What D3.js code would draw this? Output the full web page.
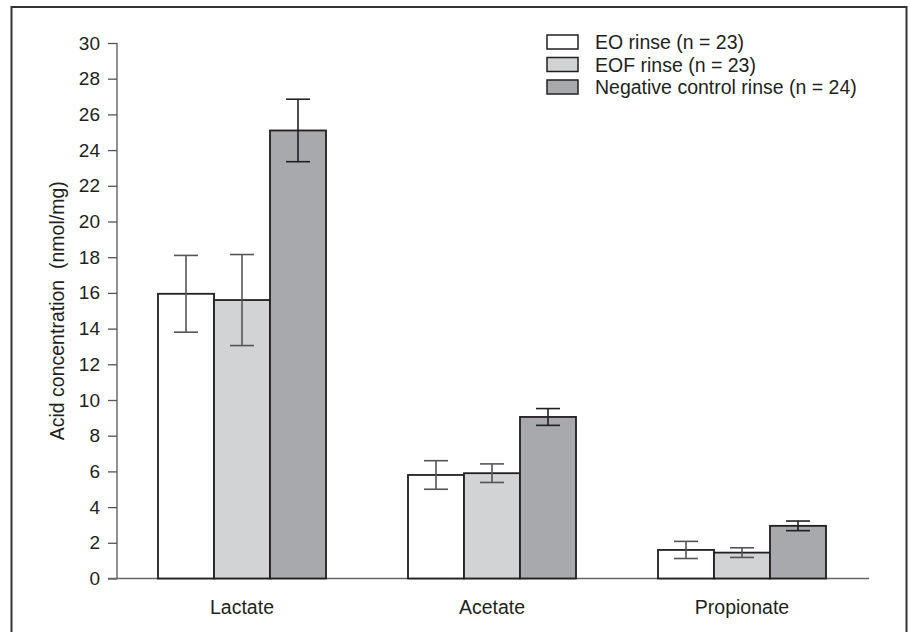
<!DOCTYPE html>
<html>
<head>
<meta charset="utf-8">
<script src="https://cdn.jsdelivr.net/npm/d3@7/dist/d3.min.js"></script>
<style>
  html, body { margin: 0; padding: 0; background: #fff; }
  svg { display: block; }
  text { font-family: "Liberation Sans", Arial, Helvetica, sans-serif; fill: #231f20; }
</style>
</head>
<body>
<svg id="chart" width="911" height="632"></svg>
<script>
// ---- data ----
const categories = ["Lactate", "Acetate", "Propionate"];
const seriesNames = ["EO rinse (n = 23)", "EOF rinse (n = 23)", "Negative control rinse (n = 24)"];
const eoValues  = [15.95, 5.8, 1.6];
const eoErrors  = [2.15, 0.8, 0.48];
const eofValues = [15.6, 5.9, 1.45];
const eofErrors = [2.55, 0.52, 0.27];
const negValues = [25.1, 9.05, 2.95];
const negErrors = [1.75, 0.47, 0.27];
const yTicks = [0, 2, 4, 6, 8, 10, 12, 14, 16, 18, 20, 22, 24, 26, 28, 30];
const yLabel = "Acid concentration\u00a0\u00a0(nmol/mg)";

const seriesFills = ["#ffffff", "#d1d3d4", "#a7a9ac"];

const series = [
  { name: seriesNames[0], values: eoValues, errors: eoErrors },
  { name: seriesNames[1], values: eofValues, errors: eofErrors },
  { name: seriesNames[2], values: negValues, errors: negErrors }
];

const svg = d3.select("#chart");

// border frame
svg.append("rect")
  .attr("x", 11.5).attr("y", 7).attr("width", 895).attr("height", 640)
  .attr("fill", "none").attr("stroke", "#333").attr("stroke-width", 2);

const x0 = d3.scaleBand().domain(categories).range([117, 867])
  .paddingInner(0.328).paddingOuter(0.164);
const x1 = d3.scaleBand().domain(d3.range(series.length)).range([0, x0.bandwidth()]);
const y = d3.scaleLinear().domain([0, 30]).range([578.5, 43]);

// y axis
const yAxis = svg.append("g")
  .attr("transform", "translate(117,0)")
  .call(d3.axisLeft(y).tickValues(yTicks).tickSize(9).tickPadding(8).tickFormat(d3.format("d")));
yAxis.select(".domain").attr("stroke", "#555").attr("stroke-width", 1.3).attr("d", "M0,578.5V43");
yAxis.selectAll(".tick line").attr("stroke", "#555").attr("stroke-width", 1.3);
yAxis.selectAll(".tick text").attr("font-size", 19).attr("fill", "#231f20")
  .style("font-family", "'Liberation Sans', Arial, sans-serif");

// baseline
svg.append("line")
  .attr("x1", 108).attr("x2", 869).attr("y1", y(0)).attr("y2", y(0))
  .attr("stroke", "#666").attr("stroke-width", 1.5);

// y label
svg.append("text")
  .attr("transform", `translate(64,${(y(0) + y(30)) / 2}) rotate(-90)`)
  .attr("text-anchor", "middle")
  .attr("font-size", 19.5)
  .text(yLabel);

// bars
const groups = svg.append("g").selectAll("g")
  .data(categories)
  .join("g")
  .attr("transform", d => `translate(${x0(d)},0)`);

groups.selectAll("rect")
  .data((c, ci) => series.map((s, si) => ({ si, v: s.values[ci] })))
  .join("rect")
  .attr("x", d => x1(d.si))
  .attr("y", d => y(d.v))
  .attr("width", x1.bandwidth())
  .attr("height", d => y(0) - y(d.v))
  .attr("fill", d => seriesFills[d.si])
  .attr("stroke", "#231f20")
  .attr("stroke-width", 1.8);

// error bars
const capHalf = 12;
const eb = groups.selectAll("g.err")
  .data((c, ci) => series.map((s, si) => ({ si, v: s.values[ci], e: s.errors[ci] })))
  .join("g").attr("class", "err")
  .attr("stroke", d => d.si === 2 ? "#231f20" : "#555")
  .attr("stroke-width", 1.6);
eb.append("line")
  .attr("x1", d => x1(d.si) + x1.bandwidth() / 2)
  .attr("x2", d => x1(d.si) + x1.bandwidth() / 2)
  .attr("y1", d => y(d.v + d.e)).attr("y2", d => y(d.v - d.e));
eb.append("line")
  .attr("x1", d => x1(d.si) + x1.bandwidth() / 2 - capHalf)
  .attr("x2", d => x1(d.si) + x1.bandwidth() / 2 + capHalf)
  .attr("y1", d => y(d.v + d.e)).attr("y2", d => y(d.v + d.e));
eb.append("line")
  .attr("x1", d => x1(d.si) + x1.bandwidth() / 2 - capHalf)
  .attr("x2", d => x1(d.si) + x1.bandwidth() / 2 + capHalf)
  .attr("y1", d => y(d.v - d.e)).attr("y2", d => y(d.v - d.e));

// category labels
svg.append("g").selectAll("text")
  .data(categories)
  .join("text")
  .attr("x", d => x0(d) + x0.bandwidth() / 2)
  .attr("y", 614)
  .attr("text-anchor", "middle")
  .attr("font-size", 19.5)
  .text(d => d);

// legend
const legend = svg.append("g").selectAll("g")
  .data(series)
  .join("g")
  .attr("transform", (d, i) => `translate(547,${35 + i * 22.5})`);
legend.append("rect")
  .attr("width", 31).attr("height", 14)
  .attr("fill", (d, i) => seriesFills[i])
  .attr("stroke", "#231f20").attr("stroke-width", 1.5);
legend.append("text")
  .attr("x", 48).attr("y", 14)
  .attr("font-size", 19.5)
  .text(d => d.name);
</script>
</body>
</html>
